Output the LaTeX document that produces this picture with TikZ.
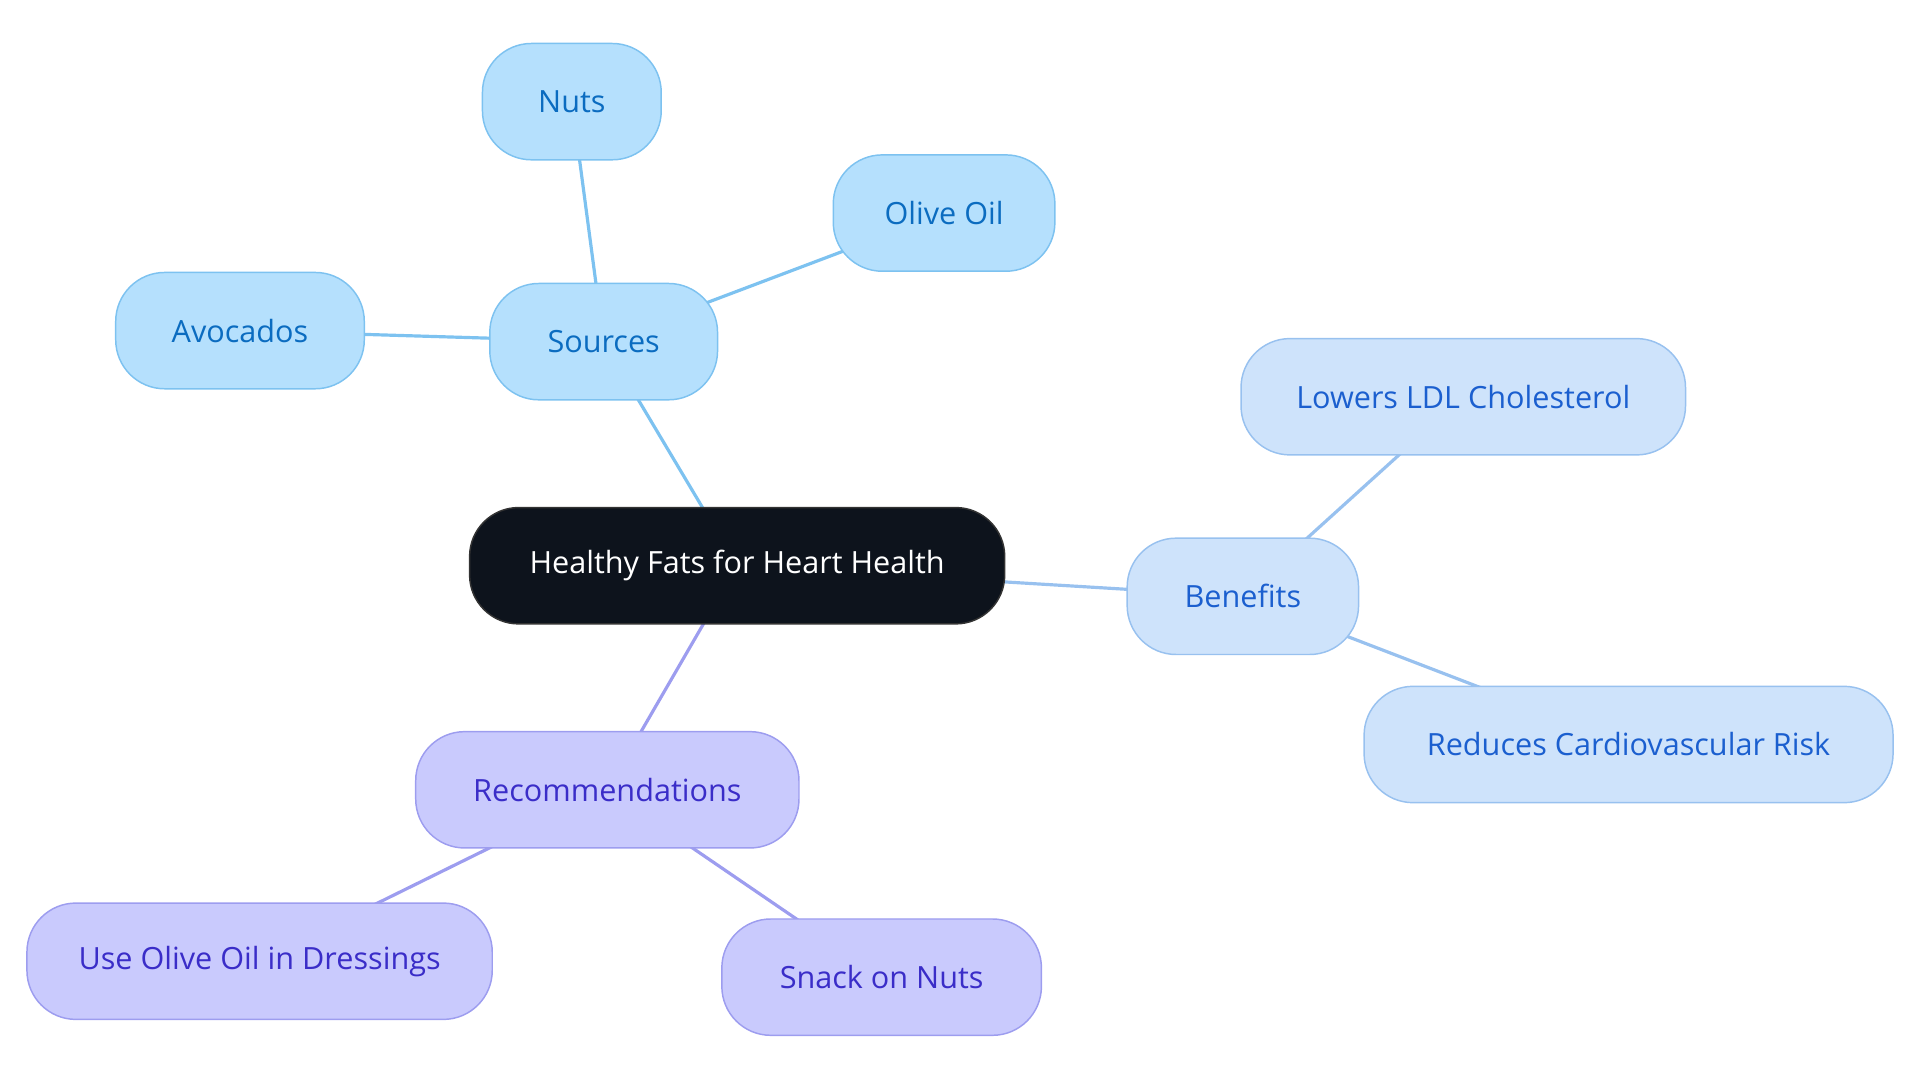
\documentclass[tikz,border=0pt]{standalone}
\usepackage{fontspec}
\setmainfont{Open Sans}
\usetikzlibrary{backgrounds}
\definecolor{rootfill}{HTML}{0D131C}
\definecolor{srcfill}{HTML}{B5E0FD}
\definecolor{srcline}{HTML}{7DC2F0}
\definecolor{srctext}{HTML}{0B6CC0}
\definecolor{benfill}{HTML}{CEE3FB}
\definecolor{benline}{HTML}{98C1EF}
\definecolor{bentext}{HTML}{1B5FCF}
\definecolor{recfill}{HTML}{C9CAFD}
\definecolor{recline}{HTML}{9D9DEF}
\definecolor{rectext}{HTML}{3A2DC8}
\tikzset{
  box/.style={rectangle, rounded corners=40pt, minimum height=95pt, line width=1.2pt,
    font=\fontsize{25}{30}\selectfont, inner sep=0pt},
  rootbox/.style={box, fill=rootfill, draw=black!80, text=white},
  srcbox/.style={box, fill=srcfill, draw=srcline, text=srctext},
  benbox/.style={box, fill=benfill, draw=benline, text=bentext},
  recbox/.style={box, fill=recfill, draw=recline, text=rectext},
  link/.style={line width=2.6pt}
}
\begin{document}
\begin{tikzpicture}[x=1pt,y=-1pt]
\useasboundingbox (0,0) rectangle (1568,884);
% root
\node[rootbox, minimum width=437pt] (root) at (602,462) {Healthy Fats for Heart Health};
% sources
\node[srcbox, minimum width=186pt] (sources) at (493,279) {Sources};
\node[srcbox, minimum width=146pt] (nuts) at (467,83) {Nuts};
\node[srcbox, minimum width=181pt] (olive) at (771,174) {Olive Oil};
\node[srcbox, minimum width=203pt] (avocados) at (196,270) {Avocados};
% benefits
\node[benbox, minimum width=189pt] (benefits) at (1015,487) {Benefits};
\node[benbox, minimum width=363pt] (ldl) at (1195,324) {Lowers LDL Cholesterol};
\node[benbox, minimum width=432pt] (risk) at (1330,608) {Reduces Cardiovascular Risk};
% recommendations
\node[recbox, minimum width=313pt] (recs) at (496,645) {Recommendations};
\node[recbox, minimum width=380pt] (dressings) at (212,785) {Use Olive Oil in Dressings};
\node[recbox, minimum width=261pt] (snack) at (720,798) {Snack on Nuts};
\begin{scope}[on background layer]
\draw[link, srcline] (root.center) -- (sources.center);
\draw[link, srcline] (sources.center) -- (nuts.center);
\draw[link, srcline] (sources.center) -- (olive.center);
\draw[link, srcline] (sources.center) -- (avocados.center);
\draw[link, benline] (root.center) -- (benefits.center);
\draw[link, benline] (benefits.center) -- (ldl.center);
\draw[link, benline] (benefits.center) -- (risk.center);
\draw[link, recline] (root.center) -- (recs.center);
\draw[link, recline] (recs.center) -- (dressings.center);
\draw[link, recline] (recs.center) -- (snack.center);
\end{scope}
\end{tikzpicture}
\end{document}
